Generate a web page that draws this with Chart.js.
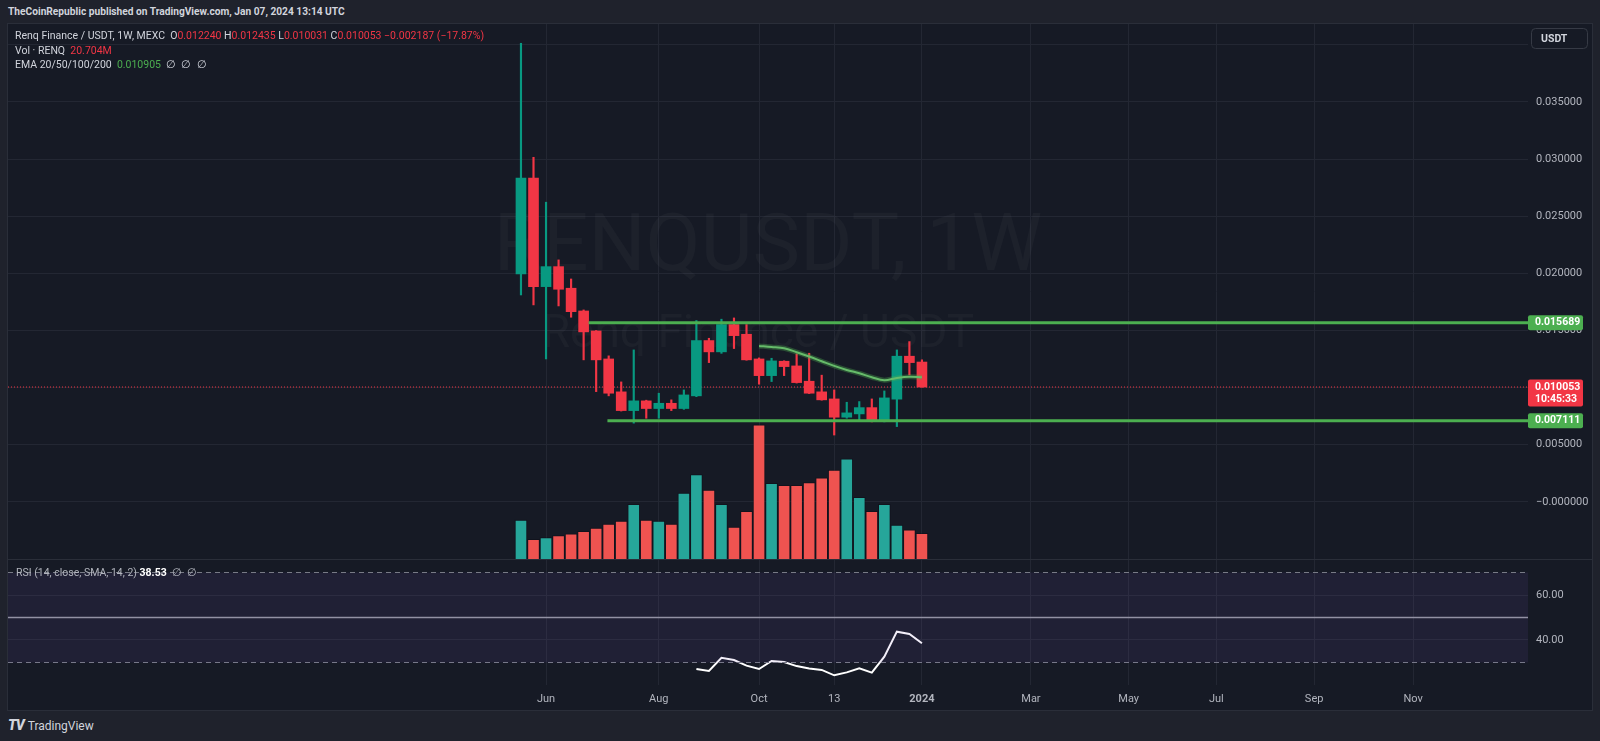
<!DOCTYPE html>
<html>
<head>
<meta charset="utf-8">
<title>RENQUSDT, 1W</title>
<script src="https://cdn.jsdelivr.net/npm/chart.js@4.4.1/dist/chart.umd.min.js"></script>
<style>
  html, body { margin: 0; padding: 0; width: 1600px; height: 741px; overflow: hidden; background: #1f222c; font-family: Roboto, "Noto Sans", sans-serif; }
  #header { position: absolute; left: 8px; top: 6px; color: #d1d4dc; font-weight: bold; font-size: 10.2px; white-space: nowrap; }
  #frame { position: absolute; left: 7px; top: 23px; width: 1584px; height: 686px; background: #161a25; border: 1px solid #2a2e39; }
  #priceChart { position: absolute; left: 8px; top: 24px; }
  #rsiChart { position: absolute; left: 8px; top: 559px; }
  #footer { position: absolute; left: 8px; top: 717px; color: #d1d4dc; font-size: 12px; white-space: nowrap; }
  #footer b { font-weight: 900; font-size: 14px; letter-spacing: -1px; margin-right: 4px; font-style: italic; }
</style>
</head>
<body>
<div id="header">TheCoinRepublic published on TradingView.com, Jan 07, 2024 13:14 UTC</div>
<div id="frame"></div>
<canvas id="priceChart" width="1584" height="535"></canvas>
<canvas id="rsiChart" width="1584" height="151"></canvas>
<div id="footer"><b>TV</b>TradingView</div>
<script>
// weekly candles, index 0 = week of 22 May 2023, index 32 = week of 1 Jan 2024
const opens  = [0.01995, 0.02833, 0.01884, 0.02059, 0.01870, 0.01671, 0.01496, 0.01251, 0.00963, 0.00799, 0.00884,
                0.00817, 0.00863, 0.00817, 0.00928, 0.01412, 0.01313, 0.01552, 0.01467, 0.01251, 0.01105, 0.01231,
                0.01190, 0.01056, 0.00963, 0.00901, 0.00741, 0.00770, 0.00825, 0.00703, 0.00899, 0.01275, 0.012240];
const highs  = [0.04014, 0.03016, 0.02623, 0.02118, 0.01951, 0.01680, 0.01500, 0.01278, 0.01050, 0.01330, 0.00890,
                0.00951, 0.00893, 0.00980, 0.01587, 0.01432, 0.01599, 0.01610, 0.01552, 0.01260, 0.01257, 0.01235,
                0.01295, 0.01301, 0.01109, 0.00980, 0.00872, 0.00878, 0.00901, 0.00971, 0.01330, 0.01403, 0.012435];
const lows   = [0.01811, 0.01724, 0.01251, 0.01715, 0.01616, 0.01243, 0.00965, 0.00928, 0.00795, 0.00689, 0.00732,
                0.00732, 0.00799, 0.00810, 0.00921, 0.01219, 0.01300, 0.01342, 0.01240, 0.01030, 0.01053, 0.01105,
                0.01040, 0.00948, 0.00890, 0.00585, 0.00732, 0.00718, 0.00700, 0.00700, 0.00659, 0.01111, 0.010031];
const closes = [0.02833, 0.01884, 0.02059, 0.01861, 0.01665, 0.01488, 0.01243, 0.00951, 0.00799, 0.00884, 0.00817,
                0.00863, 0.00817, 0.00936, 0.01412, 0.01313, 0.01552, 0.01455, 0.01243, 0.01105, 0.01234, 0.01184,
                0.01044, 0.00951, 0.00893, 0.00741, 0.00779, 0.00825, 0.00703, 0.00910, 0.01275, 0.01219, 0.010053];
// volume in millions of RENQ
const volumes = [31.4, 15.9, 17.2, 18.8, 20.2, 22.3, 25.0, 28.2, 30.6, 44.1, 31.4, 30.6, 28.2, 53.2, 68.0, 55.6, 44.1,
                 25.8, 38.4, 108.0, 61.0, 59.4, 59.4, 61.5, 65.3, 71.7, 80.6, 49.7, 38.4, 44.1, 27.4, 23.6, 20.704];
// EMA 20, from week 19 on
const emaStart = 19;
const ema20 = [0.01365, 0.01356, 0.01345, 0.01310, 0.01272, 0.01231, 0.01190, 0.01155, 0.01126, 0.01091, 0.01065,
               0.01085, 0.01096, 0.010905];
// RSI 14, from week 14 on
const rsiStart = 14;
const rsi14 = [27.1, 26.2, 32.1, 31.1, 28.6, 27.1, 30.7, 30.2, 28.4, 27.3, 26.7, 24.3, 25.6, 27.4, 25.5, 32.6, 43.7,
               42.7, 38.53];

// drawn levels
const resistance = 0.015689, resistanceFrom = 5.4;
const support = 0.007111, supportFrom = 6.9;
const lastPrice = 0.010053;
const countdown = '10:45:33';

// axes
const timeTicks  = [2, 11, 19, 25, 32, 40.7, 48.5, 55.5, 63.3, 71.2];
const timeLabels = ['Jun', 'Aug', 'Oct', '13', '2024', 'Mar', 'May', 'Jul', 'Sep', 'Nov'];
const priceTicks = [-0.005, 0, 0.005, 0.010, 0.015, 0.020, 0.025, 0.030, 0.035, 0.040];
const rsiTicks = [40, 60];

const X_MIN = -40.94, X_MAX = 80.37;
const AXIS_W = 64;
const GREEN = '#089981', RED = '#f23645', LINE_GREEN = '#4caf50';
const GRID = '#232733', TEXT = '#b2b5be';

Chart.defaults.font.family = 'Roboto, "Noto Sans", sans-serif';
Chart.defaults.font.size = 11;
Chart.defaults.color = TEXT;

const weeks = opens.map((_, i) => i);
const candleColors = weeks.map(i => closes[i] >= opens[i] ? GREEN : RED);
const volColors = weeks.map(i => closes[i] >= opens[i] ? '#26a69a' : '#ef5350');

function fixAxis(s) { s.paddingTop = 0; s.paddingBottom = 0; s.paddingLeft = 0; s.paddingRight = 0; }

function drawRuns(ctx, x, y, runs) {
  runs.forEach(r => {
    ctx.font = r[2] || '10.5px Roboto';
    ctx.fillStyle = r[1];
    ctx.fillText(r[0], x, y);
    x += ctx.measureText(r[0]).width;
  });
}

const watermark = {
  id: 'watermark',
  beforeDatasetsDraw(chart) {
    const ctx = chart.ctx, a = chart.chartArea;
    const cx = (a.left + a.right) / 2;
    ctx.save();
    ctx.fillStyle = 'rgba(255,255,255,0.03)';
    ctx.textAlign = 'center';
    ctx.textBaseline = 'middle';
    ctx.font = '80px Roboto';
    ctx.fillText('RENQUSDT, 1W', cx, 226);
    ctx.font = '46px Roboto';
    ctx.fillText('Renq Finance / USDT', cx - 10, 311);
    ctx.restore();
  }
};

const priceLegend = {
  id: 'priceLegend',
  afterDraw(chart) {
    const ctx = chart.ctx;
    const gray = '#d1d4dc';
    ctx.save();
    ctx.textBaseline = 'middle';
    drawRuns(ctx, 7, 12, [
      ['Renq Finance / USDT, 1W, MEXC  ', gray], ['O', gray], ['0.012240', RED], [' H', gray], ['0.012435', RED],
      [' L', gray], ['0.010031', RED], [' C', gray], ['0.010053', RED], [' −0.002187 (−17.87%)', RED]]);
    drawRuns(ctx, 7, 27, [['Vol · RENQ  ', gray], ['20.704M', RED]]);
    drawRuns(ctx, 7, 41.5, [['EMA 20/50/100/200  ', gray], ['0.010905', LINE_GREEN], ['  ∅  ∅  ∅', gray]]);

    // price tags on the scale
    const y = chart.scales.y, left = chart.chartArea.right;
    const tag = (val, color, extra) => {
      const py = y.getPixelForValue(val);
      const h = extra ? 27 : 15;
      ctx.fillStyle = color;
      ctx.beginPath();
      ctx.roundRect(left, py - 7.5, 55, h, 2);
      ctx.fill();
      ctx.fillStyle = '#ffffff';
      ctx.font = 'bold 10.5px Roboto';
      ctx.fillText(val.toFixed(6), left + 7, py);
      if (extra) ctx.fillText(extra, left + 7, py + 12);
    };
    tag(resistance, LINE_GREEN);
    tag(support, LINE_GREEN);
    tag(lastPrice, RED, countdown);

    // currency button
    ctx.strokeStyle = '#363a45';
    ctx.lineWidth = 1;
    ctx.fillStyle = '#161a25';
    ctx.beginPath();
    ctx.roundRect(1523.5, 4.5, 56, 20, 4);
    ctx.fill();
    ctx.stroke();
    ctx.fillStyle = '#d1d4dc';
    ctx.font = 'bold 10.5px Roboto';
    ctx.fillText('USDT', 1533, 15);
    ctx.restore();
  }
};

new Chart(document.getElementById('priceChart'), {
  type: 'bar',
  data: {
    datasets: [
      { type: 'bar', yAxisID: 'vol', order: 10, grouped: false, barThickness: 12,
        data: weeks.map(i => ({ x: i, y: volumes[i] })),
        backgroundColor: volColors, borderColor: 'rgba(10,12,20,0.45)', borderWidth: 1, borderSkipped: 'bottom' },
      { type: 'line', order: 9, data: [{ x: X_MIN, y: lastPrice }, { x: X_MAX, y: lastPrice }],
        borderColor: RED, borderWidth: 1, borderDash: [1, 2], pointRadius: 0 },
      { type: 'bar', order: 6, grouped: false, barThickness: 1.5,
        data: weeks.map(i => ({ x: i, y: [lows[i], highs[i]] })), backgroundColor: candleColors },
      { type: 'bar', order: 5, grouped: false, barThickness: 10, minBarLength: 1,
        data: weeks.map(i => ({ x: i, y: [opens[i], closes[i]] })), backgroundColor: candleColors },
      { type: 'line', order: 4, data: ema20.map((v, k) => ({ x: emaStart + k, y: v })),
        borderColor: 'rgba(76,175,80,0.35)', borderWidth: 5, pointRadius: 0, tension: 0.35 },
      { type: 'line', order: 3, data: ema20.map((v, k) => ({ x: emaStart + k, y: v })),
        borderColor: '#66bb6a', borderWidth: 2, pointRadius: 0, tension: 0.35 },
      { type: 'line', order: 2, data: [{ x: resistanceFrom, y: resistance }, { x: X_MAX, y: resistance }],
        borderColor: LINE_GREEN, borderWidth: 3, pointRadius: 0 },
      { type: 'line', order: 1, data: [{ x: supportFrom, y: support }, { x: X_MAX, y: support }],
        borderColor: LINE_GREEN, borderWidth: 3, pointRadius: 0 }
    ]
  },
  options: {
    responsive: false,
    animation: false,
    events: [],
    layout: { padding: 0 },
    plugins: { legend: { display: false }, tooltip: { enabled: false } },
    scales: {
      x: {
        type: 'linear', min: X_MIN, max: X_MAX, offset: false,
        afterBuildTicks: s => { s.ticks = timeTicks.map(v => ({ value: v })); },
        ticks: { display: false },
        grid: { color: GRID, drawTicks: false, offset: false },
        border: { display: false },
        afterFit: s => { s.height = 0; fixAxis(s); }
      },
      y: {
        position: 'right', min: -0.005, max: 0.041827,
        afterBuildTicks: s => { s.ticks = priceTicks.map(v => ({ value: v })); },
        ticks: {
          padding: 8, color: TEXT,
          callback: v => (v < -0.001 || v > 0.0395) ? '' : (Math.abs(v) < 1e-9 ? '−0.000000' : v.toFixed(6))
        },
        grid: { color: GRID, drawTicks: false },
        border: { display: false },
        afterFit: s => { s.width = AXIS_W; fixAxis(s); }
      },
      vol: { display: false, min: 0, max: 431 }
    }
  },
  plugins: [watermark, priceLegend]
});

const rsiLegend = {
  id: 'rsiLegend',
  afterDraw(chart) {
    const ctx = chart.ctx;
    ctx.save();
    ctx.textBaseline = 'middle';
    ctx.strokeStyle = '#2a2e39';
    ctx.beginPath();
    ctx.moveTo(0, 0.5);
    ctx.lineTo(chart.width, 0.5);
    ctx.stroke();
    drawRuns(ctx, 8, 14, [['RSI (14, close, SMA, 14, 2) ', '#b2b5be'], ['38.53', '#ffffff', 'bold 10.5px Roboto'],
      ['  ∅  ∅', '#b2b5be']]);
    ctx.restore();
  }
};

const band = v => [{ x: X_MIN, y: v }, { x: X_MAX, y: v }];

new Chart(document.getElementById('rsiChart'), {
  type: 'line',
  data: {
    datasets: [
      { data: band(70), borderColor: '#787b86', borderWidth: 1, borderDash: [5, 4], pointRadius: 0,
        fill: 1, backgroundColor: 'rgba(126,87,194,0.1)' },
      { data: band(30), borderColor: '#787b86', borderWidth: 1, borderDash: [5, 4], pointRadius: 0 },
      { data: band(50), borderColor: '#9598a1', borderWidth: 1.5, pointRadius: 0 },
      { data: rsi14.map((v, k) => ({ x: rsiStart + k, y: v })), borderColor: '#ffffff', borderWidth: 2,
        pointRadius: 0, tension: 0 }
    ]
  },
  options: {
    responsive: false,
    animation: false,
    events: [],
    layout: { padding: 0 },
    plugins: { legend: { display: false }, tooltip: { enabled: false } },
    scales: {
      x: {
        type: 'linear', min: X_MIN, max: X_MAX, offset: false,
        afterBuildTicks: s => { s.ticks = timeTicks.map(v => ({ value: v })); },
        ticks: {
          autoSkip: false, maxRotation: 0, padding: 8, color: TEXT,
          callback: (v, i) => timeLabels[i],
          font: c => ({ size: 11, weight: (c.tick && c.tick.label === '2024') ? 'bold' : 'normal' })
        },
        grid: { color: GRID, drawTicks: false },
        border: { display: false },
        afterFit: s => { s.height = 25; fixAxis(s); }
      },
      y: {
        position: 'right', min: 20, max: 76,
        afterBuildTicks: s => { s.ticks = rsiTicks.map(v => ({ value: v })); },
        ticks: { padding: 8, color: TEXT, callback: v => v.toFixed(2) },
        grid: { color: GRID, drawTicks: false },
        border: { display: false },
        afterFit: s => { s.width = AXIS_W; fixAxis(s); }
      }
    }
  },
  plugins: [rsiLegend]
});
</script>
</body>
</html>
